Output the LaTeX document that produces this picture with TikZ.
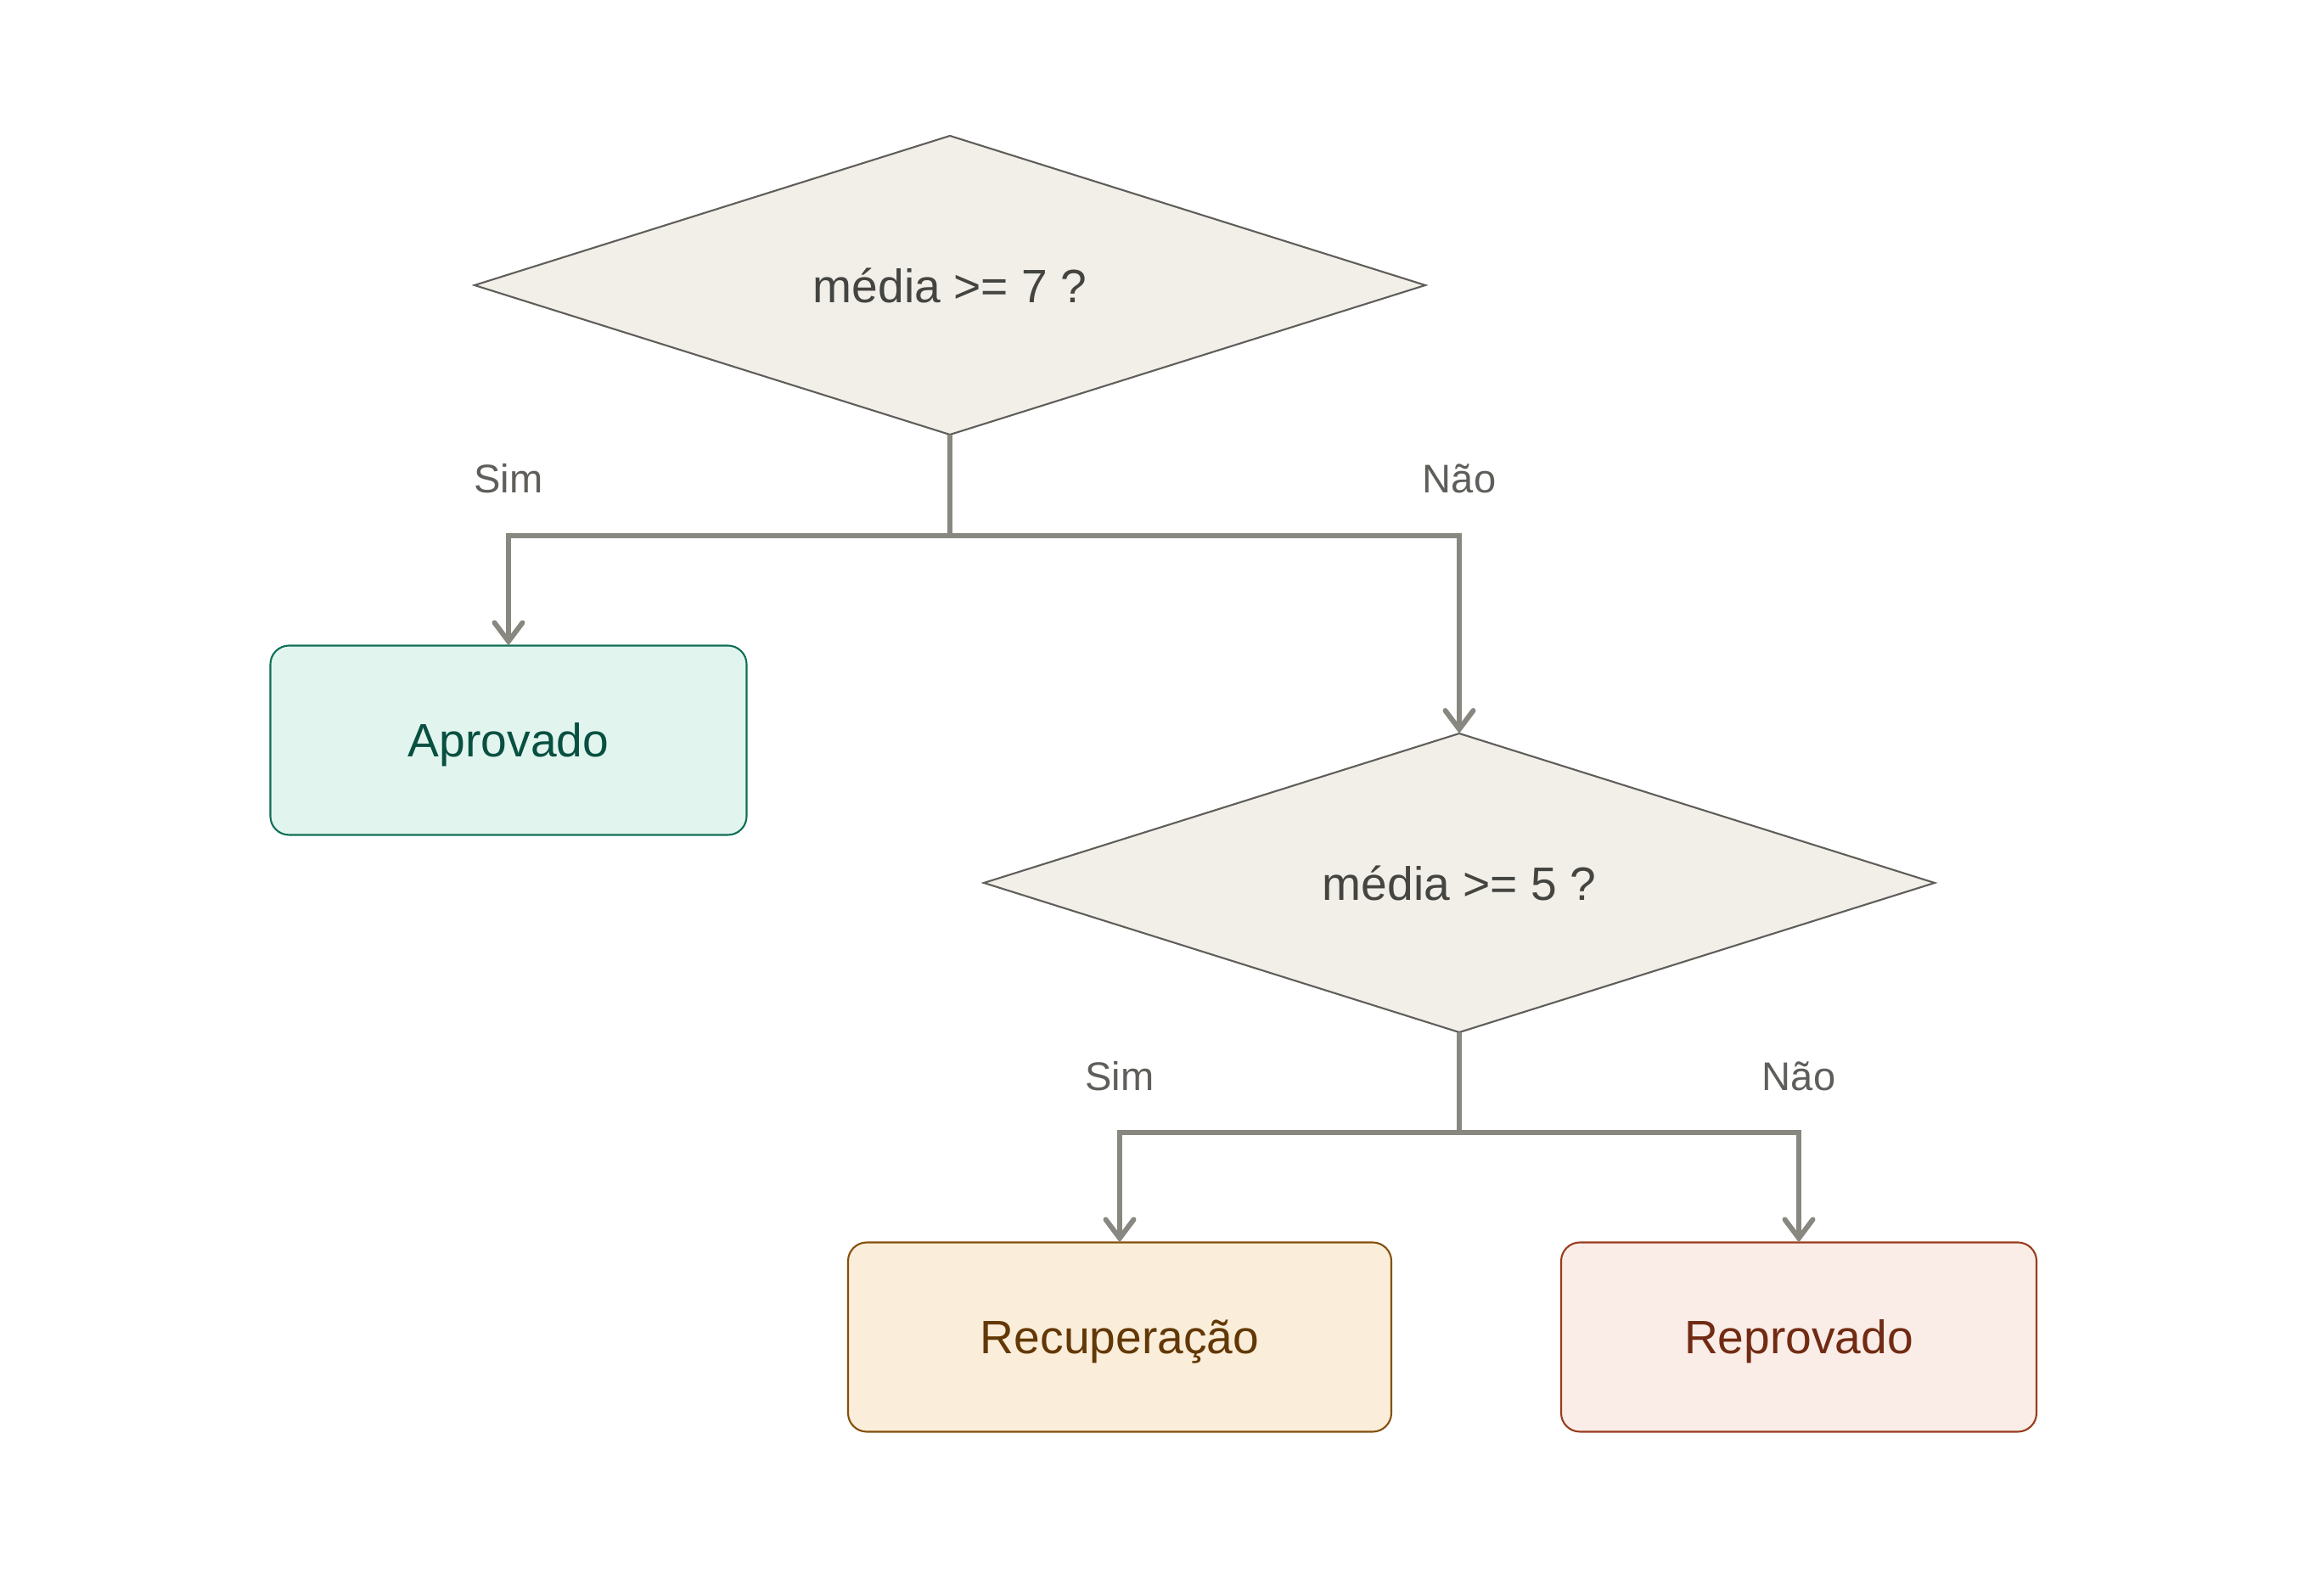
\documentclass[tikz,border=0pt]{standalone}
\usepackage{fontspec}
\setmainfont{Liberation Sans}
\usetikzlibrary{shapes.geometric,arrows.meta,positioning}

\definecolor{decFill}{HTML}{F1EFE8}
\definecolor{decLine}{HTML}{5F5E5A}
\definecolor{decText}{HTML}{444441}
\definecolor{connGray}{HTML}{888780}
\definecolor{okFill}{HTML}{E1F5EE}
\definecolor{okLine}{HTML}{0F6E56}
\definecolor{okText}{HTML}{085041}
\definecolor{recFill}{HTML}{FAEEDA}
\definecolor{recLine}{HTML}{854F0B}
\definecolor{recText}{HTML}{633806}
\definecolor{failFill}{HTML}{FAECE7}
\definecolor{failLine}{HTML}{993C1D}
\definecolor{failText}{HTML}{712B13}

\begin{document}
\begin{tikzpicture}
\fontsize{15.7}{19}\selectfont

\tikzstyle{decision} = [draw=decLine, fill=decFill, text=decText, diamond, aspect=3.2, inner sep=0pt, outer sep=0pt, line width=0.6pt, minimum width=11.2cm, minimum height=3.52cm]
\tikzstyle{result}   = [draw, rounded corners=0.22cm, line width=0.6pt, outer sep=0pt, text depth=0pt, minimum height=2.23cm]
\tikzstyle{conn}     = [draw=connGray, line width=1.7pt, -{Straight Barb[length=2.2mm, width=3.3mm, line cap=round]}]
\tikzstyle{branch}   = [draw=connGray, line width=1.7pt]
\tikzstyle{lbl}      = [text=decLine, font=\fontsize{13.4}{16}\selectfont]

\useasboundingbox (0,0) rectangle (27.2,18.8);

\node [decision] (Media7) at (11.19,15.44) {média >= 7 ?};
\node [decision] (Media5) at (17.19,8.40) {média >= 5 ?};

\node [result, draw=okLine, fill=okFill, text=okText, minimum width=5.61cm] (Aprovado) at (5.99,10.08) {Aprovado};
\node [result, draw=recLine, fill=recFill, text=recText, minimum width=6.4cm] (Recuperacao) at (13.19,3.05) {Recuperação};
\node [result, draw=failLine, fill=failFill, text=failText, minimum width=5.6cm] (Reprovado) at (21.19,3.05) {Reprovado};

\coordinate (Split7) at (11.19,12.49);
\coordinate (Split5) at (17.19,5.46);

\draw [branch] (Media7.south) -- (Split7);
\draw [conn] (Split7) -| (Aprovado.north);
\draw [conn] (Split7) -| (Media5.north);

\draw [branch] (Media5.south) -- (Split5);
\draw [conn] (Split5) -| (Recuperacao.north);
\draw [conn] (Split5) -| (Reprovado.north);

\node [lbl] (Sim7) at (5.99,13.16) {Sim};
\node [lbl] (Nao7) at (17.19,13.16) {Não};
\node [lbl] (Sim5) at (13.19,6.12) {Sim};
\node [lbl] (Nao5) at (21.19,6.12) {Não};
\end{tikzpicture}
\end{document}
